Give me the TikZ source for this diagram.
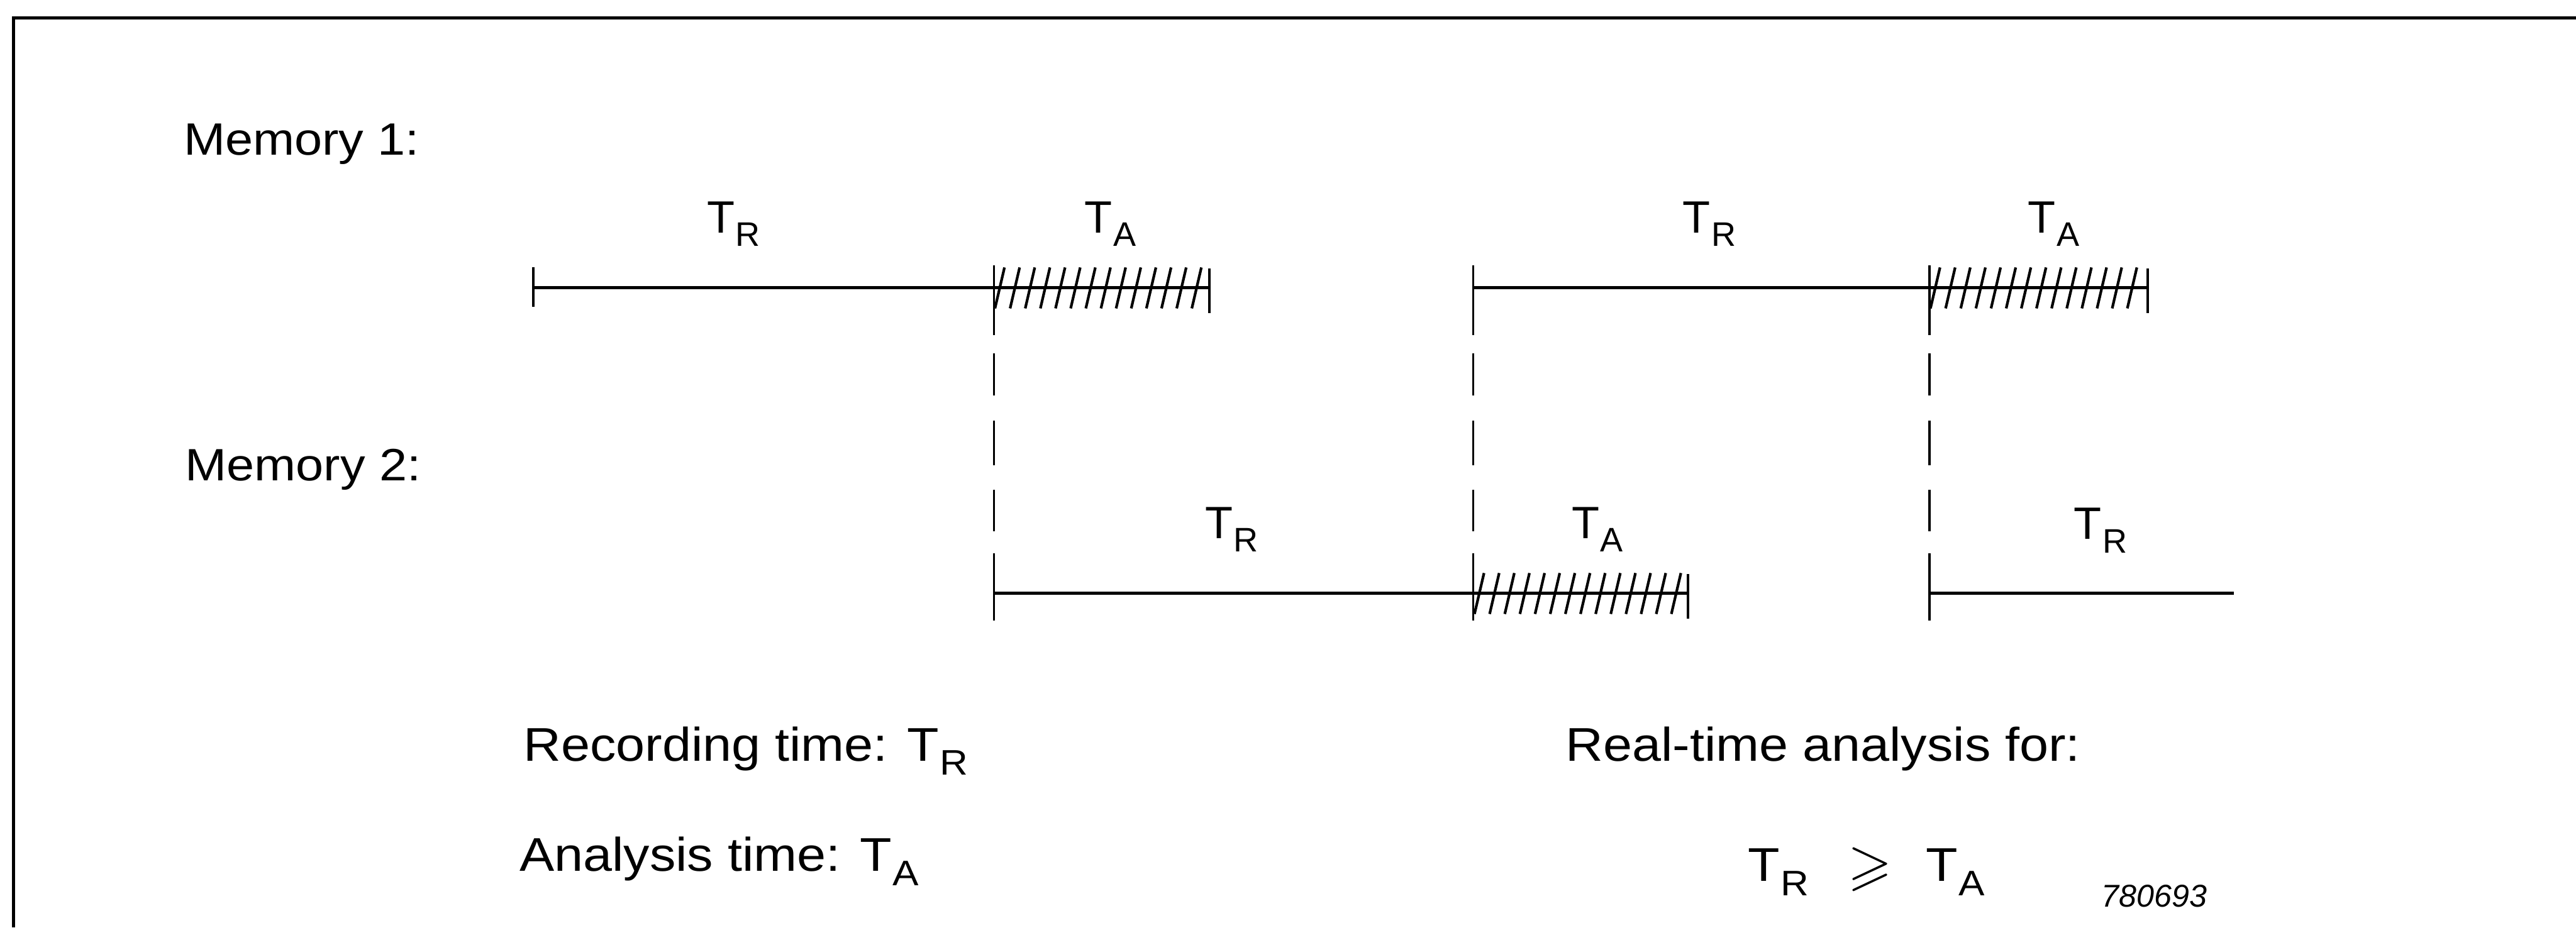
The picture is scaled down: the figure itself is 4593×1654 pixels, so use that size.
\documentclass[tikz,border=0pt]{standalone}
\usepackage{fontspec}
\usepackage{amssymb}
\usepackage{graphicx}
\setmainfont{Liberation Sans}
\newfontfamily\widefont[FakeStretch=1.1]{Liberation Sans}
\usetikzlibrary{positioning}
\newcommand{\Tsub}[1]{T\kern0.5pt\raisebox{-0.3em}{\scalebox{0.75}{#1}}}
\tikzset{
  every picture/.style={line width=1.4pt},
  lbl/.style={font=\fontsize{23pt}{28pt}\selectfont, inner sep=0pt, anchor=base},
  txt/.style={font=\fontsize{24pt}{29pt}\selectfont\widefont, inner sep=0pt, anchor=base west},
  seg/.style={line width=1.4pt},
  tick/.style={line width=1.3pt},
  guide/.style={line width=1.1pt, dash pattern=on 35.6pt off 9.1pt on 21.3pt off 12.8pt on 22.8pt off 12.2pt on 21.3pt off 11.1pt on 34.1pt},
  hatch/.style={line width=1.35pt},
}

\begin{document}
\begin{tikzpicture}[x=0.1mm, y=-0.1mm]
  \useasboundingbox (0,0) rectangle (4593,1654);
  % frame, open at right and bottom
  \draw[line width=1.6pt] (24,1654) -- (24,32) -- (4593,32);

  % memory rows
  \node[txt, font=\fontsize{23pt}{28pt}\selectfont\widefont] (mem1) at (325,276) {Memory 1:};
  \node[txt, font=\fontsize{23pt}{28pt}\selectfont\widefont] (mem2) at (328,857) {Memory 2:};

  % time marks
  \coordinate (a0) at (951,513);
  \coordinate (a1) at (1772,513);
  \coordinate (a2) at (2156,513);
  \coordinate (a3) at (2627,513);
  \coordinate (a4) at (3440,513);
  \coordinate (a5) at (3829,513);
  \coordinate (b1) at (1772,1058);
  \coordinate (b3) at (2627,1058);
  \coordinate (b4) at (3010,1058);
  \coordinate (b5) at (3440,1058);
  \coordinate (b6) at (3983,1058);

  % recording segments
  \draw[seg] (a0) -- (a1) -- (a2);
  \draw[seg] (a3) -- (a4) -- (a5);
  \draw[seg] (b1) -- (b3) -- (b4);
  \draw[seg] (b5) -- (b6);

  % end ticks
  \draw[tick] ([yshift=0.37cm]a0) -- ([yshift=-0.34cm]a0);
  \foreach \c in {a2, a5, b4}
    \draw[tick] ([yshift=0.34cm]\c) -- ([yshift=-0.45cm]\c);

  % switch-over guides
  \foreach \x in {1772, 2627, 3440}
    \draw[guide] (\x,473) -- (\x,1107);

  % analysis hatching
  \foreach \x/\y in {1772/513, 3440/513, 2627/1058} {
    \foreach \k in {0,...,13}
      \draw[hatch] ({\x+2+27*\k},{\y+37}) -- ({\x+19+27*\k},{\y-36});
  }

  % interval labels
  \node[lbl] (tr1) at (1308,415) {\Tsub{R}};
  \node[lbl] (ta1) at (1980,415) {\Tsub{A}};
  \node[lbl] (tr2) at (3048,415) {\Tsub{R}};
  \node[lbl] (ta2) at (3662,415) {\Tsub{A}};
  \node[lbl] (tr3) at (2196,960) {\Tsub{R}};
  \node[lbl] (ta3) at (2848,960) {\Tsub{A}};
  \node[lbl] (tr4) at (3745,962) {\Tsub{R}};

  % legend
  \node[txt] (rec) at (931,1357) {Recording time: \Tsub{R}};
  \node[txt] (ana) at (924,1554) {Analysis time: \Tsub{A}};
  \node[txt, anchor=base east] (rt) at (3712,1357) {Real-time analysis for:};
  \node[txt] (cond) at (3114,1572) {\Tsub{R}\hspace{20pt}\raisebox{-1pt}{\scalebox{1.2}{$\geqslant$}}\hspace{17pt}\Tsub{A}};
  \node[txt, font=\fontsize{16pt}{19pt}\selectfont\itshape] (num) at (3745,1617) {780693};
\end{tikzpicture}
\end{document}
